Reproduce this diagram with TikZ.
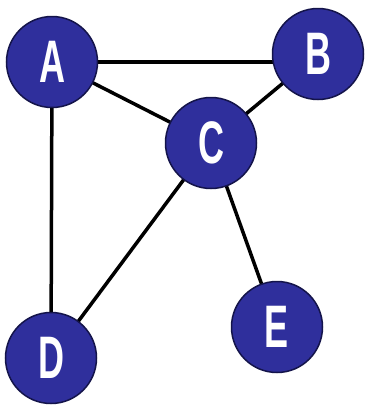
\documentclass[tikz,border=0pt]{standalone}
\usepackage{fontspec}
\usepackage{graphicx}
\usetikzlibrary{backgrounds}
\setmainfont{Liberation Sans}
\definecolor{nodeblue}{HTML}{2F2F9C}
\definecolor{nodeedge}{HTML}{14144A}
\begin{document}
\begin{tikzpicture}[x=1pt,y=-1pt,
  vert/.style={circle,fill=nodeblue,draw=nodeedge,line width=1.5pt,minimum size=91pt,inner sep=0pt,
    font=\fontsize{60}{60}\selectfont\bfseries,text=white},
  link/.style={line width=3.5pt,black}]
\useasboundingbox (0,0) rectangle (368,410);
\node[vert] (A) at (52,62) {\scalebox{0.6}[1]{A}};
\node[vert] (B) at (318,54) {\scalebox{0.6}[1]{B}};
\node[vert] (C) at (211,143) {\scalebox{0.6}[1]{C}};
\node[vert] (D) at (51,358) {\scalebox{0.6}[1]{D}};
\node[vert] (E) at (277,327) {\scalebox{0.6}[1]{E}};
\begin{pgfonlayer}{background}
\fill[white] (0,0) rectangle (368,410);
\draw[link] (A.center) -- (A.center -| B.center);
\draw[link] (A.center) -- (C.center);
\draw[link] (B.center) -- (C.center);
\draw[link] (A.center) -- (D.center);
\draw[link] (C.center) -- (D.center);
\draw[link] (C.center) -- (E.center);
\end{pgfonlayer}
\end{tikzpicture}
\end{document}
